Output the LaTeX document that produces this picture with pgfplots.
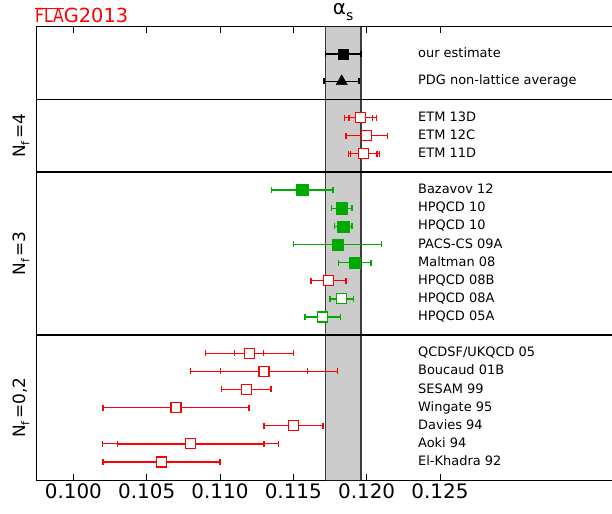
\documentclass[border=0pt]{standalone}
\usepackage{pgfplots}
\usepackage{pgfplotstable}
\pgfplotsset{compat=1.18}
\usepackage{fontspec}
\setmainfont{DejaVu Sans}
\definecolor{fgreen}{RGB}{0,170,0}
\definecolor{bandgray}{RGB}{204,204,204}
\definecolor{banddark}{RGB}{60,60,60}
\pgfplotsset{
  ebar/.style={only marks, mark=none, error bars/.cd, x dir=both, x explicit,
    error bar style={line width=#1},
    error mark options={rotate=90, mark size=3bp, line width=#1}},
}
\pgfplotstableread{
x y e
0.1184 23.5 0.0012
}\ourest
\pgfplotstableread{
x y e
0.1183 22 0.0012
}\pdg
\pgfplotstableread{
x y e
0.1196 20 0.0011
0.1198 18 0.00105
0.1120 7 0.0030
0.1130 6 0.0050
0.1080 2 0.0060
}\redouter
\pgfplotstableread{
x y e
0.1196 20 0.0008
0.1200 19 0.0014
0.1198 18 0.0009
0.1174 11 0.0012
}\redetm
\pgfplotstableread{
x y e
0.1120 7 0.0010
0.1130 6 0.0030
}\redthin
\pgfplotstableread{
x y e
0.1118 5 0.0017
0.1070 4 0.0050
0.1150 3 0.0020
0.1080 2 0.0050
0.1060 1 0.0040
}\redthick
\pgfplotstableread{
x y e
0.1156 16 0.0021
0.1183 15 0.0007
0.1184 14 0.0006
0.1180 13 0.0030
0.1192 12 0.0011
}\greenfilled
\pgfplotstableread{
x y e
0.1183 10 0.0008
0.1170 9 0.0012
}\greenopen
\begin{document}
\begin{tikzpicture}
\begin{axis}[
  scale only axis, width=576.3bp, height=453bp,
  xmin=0.0975, xmax=0.1368, ymin=0, ymax=25,
  ytick=\empty,
  xtick={0.100,0.105,0.110,0.115,0.120,0.125},
  scaled x ticks=false,
  xticklabel style={font=\fontsize{20}{24}\selectfont,
    /pgf/number format/.cd, fixed, fixed zerofill, precision=3, assume math mode=true},
  major tick length=6bp,
  axis line style={line width=1bp},
  every tick/.style={black, line width=0.8bp},
  clip=false,
]
% band
\addplot[fill=bandgray, draw=none] coordinates {(0.1172,0) (0.1172,25) (0.1196,25) (0.1196,0)} \closedcycle;
\addplot[banddark, line width=1.5bp] coordinates {(0.1172,0) (0.1172,25)};
\addplot[banddark, line width=1.5bp] coordinates {(0.1196,0) (0.1196,25)};
% separators
\addplot[black, line width=1.3bp] coordinates {(0.0975,21) (0.1368,21)};
\addplot[black, line width=1.3bp] coordinates {(0.0975,17) (0.1368,17)};
\addplot[black, line width=1.3bp] coordinates {(0.0975,8) (0.1368,8)};

% ---- error bars first ----
\addplot[black, ebar=1.7bp] table[x=x, y=y, x error=e] {\ourest};
\addplot[black, ebar=1.7bp] table[x=x, y=y, x error=e] {\pdg};
\addplot[red, ebar=1.1bp] table[x=x, y=y, x error=e] {\redouter};
\addplot[red, ebar=1.3bp] table[x=x, y=y, x error=e] {\redetm};
\addplot[red, ebar=1.0bp] table[x=x, y=y, x error=e] {\redthin};
\addplot[red, ebar=1.7bp] table[x=x, y=y, x error=e] {\redthick};
\addplot[fgreen, ebar=1.3bp] table[x=x, y=y, x error=e] {\greenfilled};
\addplot[fgreen, ebar=1.5bp] table[x=x, y=y, x error=e] {\greenopen};

% ---- markers on top ----
\addplot[black, only marks, mark=square*, mark size=5.2bp] table[x=x, y=y] {\ourest};
\addplot[black, only marks, mark=triangle*, mark size=6.5bp] table[x=x, y=y] {\pdg};
\addplot[red, only marks, mark=square*, mark size=5bp, mark options={fill=white, line width=1.3bp}] table[x=x, y=y] {\redetm};
\addplot[red, only marks, mark=square*, mark size=5bp, mark options={fill=white, line width=1.3bp}] table[x=x, y=y] {\redthin};
\addplot[red, only marks, mark=square*, mark size=5bp, mark options={fill=white, line width=1.3bp}] table[x=x, y=y] {\redthick};
\addplot[fgreen, only marks, mark=square*, mark size=5.6bp, mark options={fill=fgreen}] table[x=x, y=y] {\greenfilled};
\addplot[fgreen, only marks, mark=square*, mark size=5bp, mark options={fill=white, line width=1.3bp}] table[x=x, y=y] {\greenopen};

% labels
\begin{scope}[every node/.style={anchor=base west, yshift=-0.365em, font=\fontsize{13}{15}\selectfont, inner sep=0pt}]
\node at (axis cs:0.1235,23.5) {our estimate};
\node at (axis cs:0.1235,22) {PDG non-lattice average};
\node at (axis cs:0.1235,20) {ETM 13D};
\node at (axis cs:0.1235,19) {ETM 12C};
\node at (axis cs:0.1235,18) {ETM 11D};
\node at (axis cs:0.1235,16) {Bazavov 12};
\node at (axis cs:0.1235,15) {HPQCD 10};
\node at (axis cs:0.1235,14) {HPQCD 10};
\node at (axis cs:0.1235,13) {PACS-CS 09A};
\node at (axis cs:0.1235,12) {Maltman 08};
\node at (axis cs:0.1235,11) {HPQCD 08B};
\node at (axis cs:0.1235,10) {HPQCD 08A};
\node at (axis cs:0.1235,9) {HPQCD 05A};
\node at (axis cs:0.1235,7) {QCDSF/UKQCD 05};
\node at (axis cs:0.1235,6) {Boucaud 01B};
\node at (axis cs:0.1235,5) {SESAM 99};
\node at (axis cs:0.1235,4) {Wingate 95};
\node at (axis cs:0.1235,3) {Davies 94};
\node at (axis cs:0.1235,2) {Aoki 94};
\node at (axis cs:0.1235,1) {El-Khadra 92};
\end{scope}

% N_f labels
\begin{scope}[every node/.style={font=\fontsize{17}{20}\selectfont, inner sep=0pt}]
\node[xshift=-15.7bp, rotate=90] at (axis cs:0.0975,19) {N\raisebox{-0.25em}{\fontsize{11}{12}\selectfont f}\,=4};
\node[xshift=-15.7bp, rotate=90] at (axis cs:0.0975,12.5) {N\raisebox{-0.25em}{\fontsize{11}{12}\selectfont f}\,=3};
\node[xshift=-15.7bp, rotate=90] at (axis cs:0.0975,4) {N\raisebox{-0.25em}{\fontsize{11}{12}\selectfont f}\,=0,2};
\end{scope}

% title
\node[yshift=12bp, anchor=base, inner sep=0pt, font=\fontsize{20}{24}\selectfont] at (axis cs:0.1184,25) {α\raisebox{-0.3em}{\fontsize{14}{16}\selectfont s}};
% FLAG logo
\node[xshift=-1.7bp, yshift=4.3bp, anchor=base west, inner sep=0pt, text=red, font=\fontsize{19.5}{22}\selectfont] at (axis cs:0.0975,25) {\makebox[0pt][l]{\color{red}\rule[0.68em]{28.5bp}{1.5bp}}\scalebox{0.8}[1]{FLA}G2013};
\end{axis}
\pgfresetboundingbox
\path[use as bounding box] (-36.7bp,-34bp) rectangle (575.3bp,480bp);
\end{tikzpicture}
\end{document}
